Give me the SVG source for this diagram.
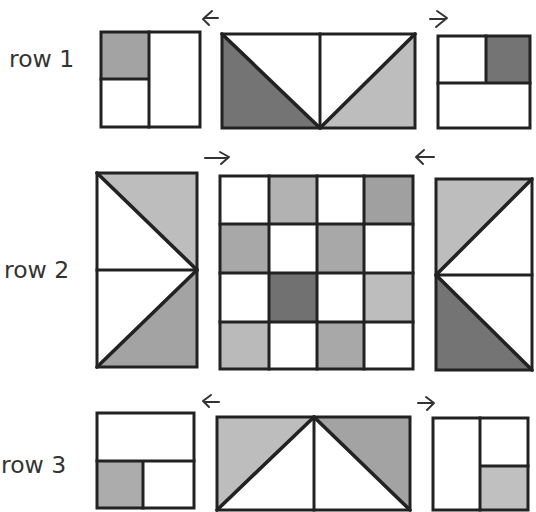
<svg xmlns="http://www.w3.org/2000/svg" width="536" height="512" viewBox="0 0 536 512">
<style>
.ln{fill:none;stroke:#222;stroke-width:3;stroke-linejoin:miter;stroke-linecap:square}
.dg{fill:none;stroke:#222;stroke-width:3.6;stroke-linecap:round;stroke-linejoin:round}
.dk{fill:#747474}
.md{fill:#a3a3a3}
.lt{fill:#bdbdbd}
.lbl{font-family:"DejaVu Sans","Liberation Sans",sans-serif;font-size:23.5px;fill:#333}
.arr{fill:none;stroke:#333;stroke-width:2;stroke-linecap:round;stroke-linejoin:round}
</style>
<rect width="536" height="512" fill="#fff"/>
<text class="lbl" x="9" y="67">row 1</text>
<text class="lbl" x="4" y="278">row 2</text>
<text class="lbl" x="1" y="473">row 3</text>

<g id="r1-left">
<rect x="101" y="32" width="48" height="47" class="md"/>
<rect x="101" y="32" width="99" height="95" class="ln"/>
<path d="M149 32V127M101 79H149" class="ln"/>
</g>
<g id="r1-mid">
<path d="M222 34L320 128H222Z" class="dk"/>
<path d="M415 34L320 128H415Z" class="lt"/>
<rect x="222" y="34" width="193" height="94" class="ln"/>
<path d="M320 34V128" class="ln"/>
<path d="M222 34L320 128L415 34" class="dg"/>
</g>
<g id="r1-right">
<rect x="486" y="36" width="44" height="47" class="dk"/>
<rect x="438" y="36" width="92" height="92" class="ln"/>
<path d="M486 36V83M438 83H530" class="ln"/>
</g>

<g id="r2-left">
<path d="M97 173H197V270Z" class="lt"/>
<path d="M197 270V367H97Z" class="md"/>
<rect x="97" y="173" width="100" height="194" class="ln"/>
<path d="M97 270H197" class="ln"/>
<path d="M97 173L197 270L97 367" class="dg"/>
</g>
<g id="r2-mid">
<rect x="269" y="176" width="48" height="48" fill="#b2b2b2"/>
<rect x="364" y="176" width="49" height="48" fill="#a0a0a0"/>
<rect x="220" y="224" width="49" height="49" fill="#a8a8a8"/>
<rect x="317" y="224" width="47" height="49" fill="#a8a8a8"/>
<rect x="269" y="273" width="48" height="49" fill="#717171"/>
<rect x="364" y="273" width="49" height="49" class="lt"/>
<rect x="220" y="322" width="49" height="47" fill="#bababa"/>
<rect x="317" y="322" width="47" height="47" fill="#a8a8a8"/>
<rect x="220" y="176" width="193" height="193" class="ln"/>
<path d="M269 176V369M317 176V369M364 176V369M220 224H413M220 273H413M220 322H413" class="ln"/>
</g>
<g id="r2-right">
<path d="M436 179H532L436 275Z" class="lt"/>
<path d="M436 275L532 370H436Z" class="dk"/>
<rect x="436" y="179" width="96" height="191" class="ln"/>
<path d="M436 275H532" class="ln"/>
<path d="M532 179L436 275L532 370" class="dg"/>
</g>

<g id="r3-left">
<rect x="97" y="461" width="46" height="47" fill="#acacac"/>
<rect x="97" y="413" width="97" height="95" class="ln"/>
<path d="M97 461H194M143 461V508" class="ln"/>
</g>
<g id="r3-mid">
<path d="M217 417H314L217 510Z" class="lt"/>
<path d="M314 417H410V510Z" class="md"/>
<rect x="217" y="417" width="193" height="93" class="ln"/>
<path d="M314 417V510" class="ln"/>
<path d="M217 510L314 417L410 510" class="dg"/>
</g>
<g id="r3-right">
<rect x="480" y="466" width="48" height="44" fill="#c0c0c0"/>
<rect x="433" y="418" width="95" height="92" class="ln"/>
<path d="M480 418V510M480 466H528" class="ln"/>
</g>

<g id="arrows">
<path class="arr" d="M218 18H204M212 11L203 19L209 25"/>
<path class="arr" d="M430 19H446M437 11L447 18L436 27"/>
<path class="arr" d="M205 158H228M220 152L229 157L221 164"/>
<path class="arr" d="M434 157H417M424 150L416 157L423 164"/>
<path class="arr" d="M219 402H205M211 395L203 401L209 407"/>
<path class="arr" d="M418 403H433M426 397L434 403L427 410"/>
</g>
</svg>
